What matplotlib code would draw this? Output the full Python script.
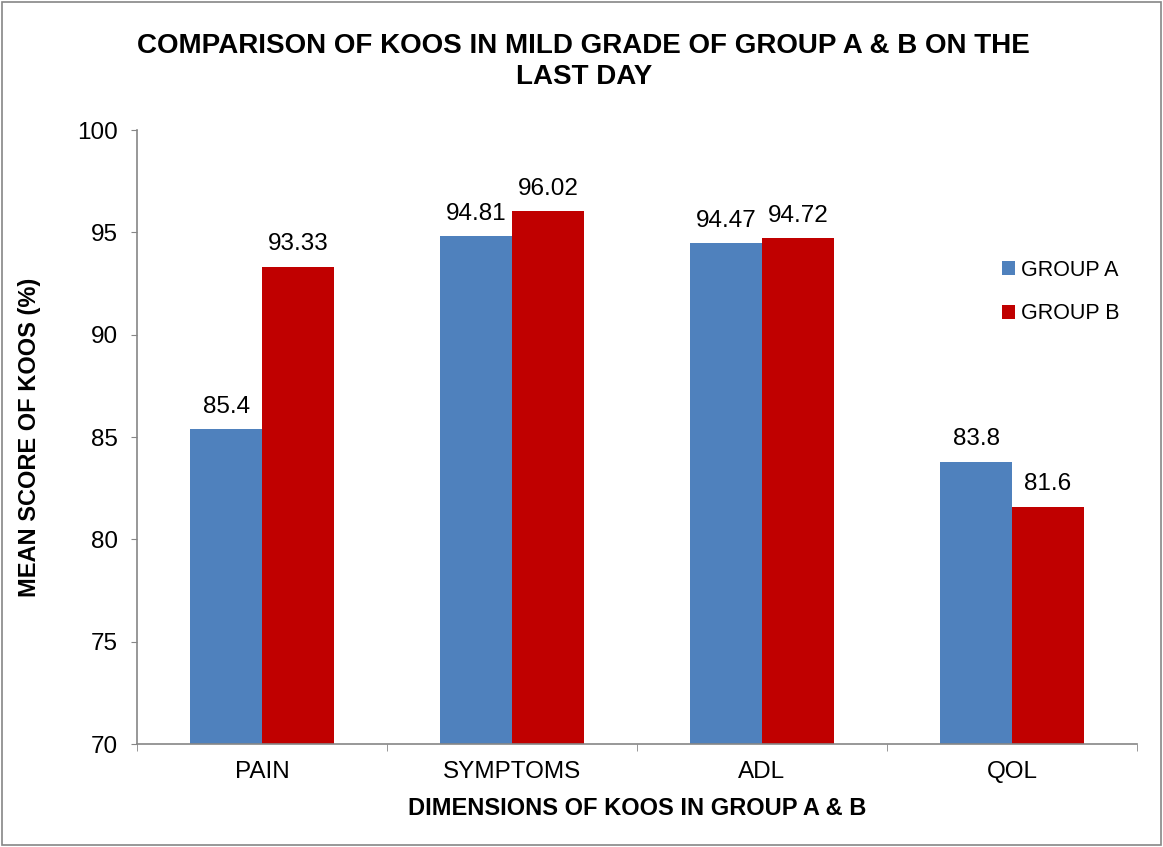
import numpy as np
import matplotlib.pyplot as plt
from matplotlib.patches import Rectangle

plt.rcParams['font.family'] = ['Liberation Sans', 'DejaVu Sans']

categories = ['PAIN', 'SYMPTOMS', 'ADL', 'QOL']
group_a = [85.4, 94.81, 94.47, 83.8]
group_b = [93.33, 96.02, 94.72, 81.6]
label_a = ['85.4', '94.81', '94.47', '83.8']
label_b = ['93.33', '96.02', '94.72', '81.6']
yticks = [70, 75, 80, 85, 90, 95, 100]

W, H = 1163, 847
fig = plt.figure(figsize=(W / 100, H / 100), dpi=100)
ax = fig.add_axes([137 / W, 103 / H, 1000 / W, 614 / H])

x = np.arange(len(categories))
w = 0.287
bars_a = ax.bar(x - w / 2, group_a, w, color='#4F81BD', label='GROUP A')
bars_b = ax.bar(x + w / 2, group_b, w, color='#C00000', label='GROUP B')

# value labels above each bar
for bars, labels in ((bars_a, label_a), (bars_b, label_b)):
    for b, t in zip(bars, labels):
        ax.annotate(t, (b.get_x() + b.get_width() / 2, b.get_height()),
                    xytext=(0, 8), textcoords='offset points',
                    ha='center', va='bottom', fontsize=17.5)

ax.set_xlim(-0.5, len(categories) - 0.5)
ax.set_ylim(70, 100)
ax.set_yticks(yticks)
ax.tick_params(axis='y', labelsize=17.5, length=4.5, color='#868686', pad=9)
ax.set_xticks(x)
ax.set_xticklabels(categories)
ax.set_xticks(np.arange(len(categories) + 1) - 0.5, minor=True)
ax.tick_params(axis='x', which='major', length=0, labelsize=17.5, pad=12)
ax.tick_params(axis='x', which='minor', length=5, color='#868686')

for s in ['top', 'right']:
    ax.spines[s].set_visible(False)
for s in ['left', 'bottom']:
    ax.spines[s].set_color('#868686')
    ax.spines[s].set_linewidth(1.2)

ax.set_ylabel('MEAN SCORE OF KOOS (%)', fontsize=17, fontweight='bold')
ax.yaxis.set_label_coords(-107 / 1000, 0.5)
ax.yaxis.label.set_verticalalignment('center')
ax.set_xlabel('DIMENSIONS OF KOOS IN GROUP A & B', fontsize=17, fontweight='bold')
ax.xaxis.set_label_coords(0.5, -64 / 614)
ax.xaxis.label.set_verticalalignment('center')

fig.text(0.502, 0.927, 'COMPARISON OF KOOS IN MILD GRADE OF GROUP A & B ON THE\nLAST DAY',
         ha='center', va='center', fontsize=20, fontweight='bold', linespacing=1.25)

ax.legend(loc='center left', bbox_to_anchor=(991 / W, 1 - 292 / H),
          bbox_transform=fig.transFigure, frameon=False, borderpad=0,
          fontsize=15.5, handlelength=0.6, handleheight=0.6, handletextpad=0.3,
          labelspacing=1.05)

fig.patches.append(Rectangle((0.002, 0.002), 0.996, 0.996, transform=fig.transFigure,
                             fill=False, edgecolor='#868686', linewidth=1.2))

fig.savefig('out.png', dpi=100)
